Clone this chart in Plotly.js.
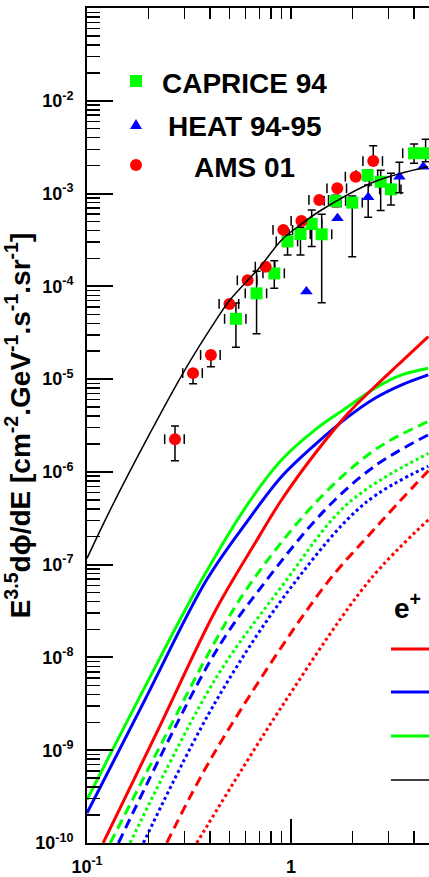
<!DOCTYPE html>
<html><head><meta charset="utf-8">
<script src="https://cdn.plot.ly/plotly-3.0.1.min.js"></script>
<style>html,body{margin:0;padding:0;overflow:hidden;background:#fff}</style>
</head><body><div id="chart" style="width:429px;height:877px"></div>
<script>
// ---------- data: AMS 01 ----------
const E_AMS = [0.270, 0.331, 0.405, 0.499, 0.613, 0.751, 0.917, 1.125, 1.376, 1.686, 2.075, 2.53];
const F_AMS = [2.25e-6, 1.16e-5, 1.82e-5, 6.46e-5, 1.16e-4, 1.63e-4, 4.06e-4, 5.07e-4, 8.53e-4, 1.14e-3, 1.52e-3, 2.24e-3];
const F_AMS_HI = [3.13e-6, 1.16e-5, 1.82e-5, 6.46e-5, 1.16e-4, 1.63e-4, 4.06e-4, 5.07e-4, 8.53e-4, 1.14e-3, 1.52e-3, 3.28e-3];
const F_AMS_LO = [1.32e-6, 8.9e-6, 1.36e-5, 6.46e-5, 1.16e-4, 1.63e-4, 4.06e-4, 5.07e-4, 8.53e-4, 1.14e-3, 1.52e-3, 2.24e-3];
const DE_AMS = 0.11;   // relative energy bin half-width
// ---------- data: CAPRICE 94 ----------
const E_CAP = [0.537, 0.678, 0.828, 0.962, 1.113, 1.263, 1.414, 1.654, 1.996, 2.375, 2.752, 3.09, 4.01, 4.57];
const F_CAP = [4.46e-5, 8.4e-5, 1.38e-4, 3.05e-4, 3.66e-4, 4.70e-4, 3.64e-4, 8.32e-4, 7.98e-4, 1.58e-3, 1.34e-3, 1.11e-3, 2.72e-3, 2.72e-3];
const F_CAP_HI = [6.6e-5, 1.45e-4, 1.89e-4, 3.6e-4, 4.3e-4, 6.65e-4, 6.0e-4, 9.6e-4, 9.4e-4, 1.8e-3, 1.78e-3, 1.66e-3, 3.42e-3, 3.85e-3];
const F_CAP_LO = [2.21e-5, 3.09e-5, 9.55e-5, 2.18e-4, 2.18e-4, 2.68e-4, 6.67e-5, 7.2e-4, 2.09e-4, 1.38e-3, 6.55e-4, 7.53e-4, 2.12e-3, 2.2e-3];
const DE_CAP = 0.12;
// ---------- data: HEAT 94-95 ----------
const E_HEAT = [1.19, 1.69, 2.39, 3.40, 4.45];
const F_HEAT = [8.77e-5, 5.42e-4, 9.12e-4, 1.52e-3, 1.95e-3];
const F_HEAT_HI = [NaN, NaN, 1.24e-3, 2.17e-3, NaN];
const F_HEAT_LO = [NaN, NaN, 5.55e-4, 1.02e-3, NaN];
// ---------- model curves ----------
const E_black = [0.1, 0.130, 0.204, 0.302, 0.424, 0.502, 0.705, 0.90, 1.107, 1.41, 2.58, 4.70];
const F_black = [1.17e-7, 3.9e-7, 2.63e-6, 1.26e-5, 4.17e-5, 7.14e-5, 1.62e-4, 3.16e-4, 4.57e-4, 6.65e-4, 1.35e-3, 1.95e-3];

const E_greenSolid = [0.1, 0.189, 0.365, 0.618, 0.90, 1.312, 1.91, 2.58, 3.49, 4.71];
const F_greenSolid = [2.92e-10, 4.47e-9, 6.86e-8, 4.6e-7, 1.35e-6, 2.84e-6, 5.06e-6, 7.98e-6, 1.11e-5, 1.31e-5];
const E_blueSolid = [0.1, 0.189, 0.386, 0.618, 0.90, 1.312, 1.91, 2.58, 3.49, 4.71];
const F_blueSolid = [2.10e-10, 3.24e-9, 6.86e-8, 3.04e-7, 8.91e-7, 1.97e-6, 3.94e-6, 6.22e-6, 8.67e-6, 1.11e-5];
const E_redSolid = [0.120, 0.226, 0.424, 0.667, 0.90, 1.312, 1.91, 2.58, 3.49, 4.71];
const F_redSolid = [1.0e-10, 1.76e-9, 3.13e-8, 1.71e-7, 5.01e-7, 1.58e-6, 4.30e-6, 8.32e-6, 1.55e-5, 2.88e-5];

const E_greenDash = [0.130, 0.234, 0.424, 0.618, 1.312, 2.58, 4.71];
const F_greenDash = [1e-10, 1.23e-9, 1.48e-8, 5.81e-8, 4.60e-7, 1.73e-6, 3.49e-6];
const E_blueDash = [0.1426, 0.424, 0.718, 1.469, 2.58, 4.71];
const F_blueDash = [1e-10, 1.12e-8, 5.81e-8, 3.9e-7, 1.16e-6, 2.51e-6];
const E_redDash = [0.246, 0.424, 1.414, 2.487, 4.71];
const F_redDash = [1e-10, 9.62e-10, 5.35e-8, 2.25e-7, 1.03e-6];

const E_greenDot = [0.1626, 0.424, 0.90, 1.91, 4.71];
const F_greenDot = [1e-10, 5.75e-9, 5.81e-8, 4.60e-7, 1.58e-6];
const E_blueDot = [0.189, 0.424, 1.007, 2.307, 4.71];
const F_blueDot = [1e-10, 3.24e-9, 5.81e-8, 4.60e-7, 1.15e-6];
const E_redDot = [0.345, 0.90, 2.438, 4.71];
const F_redDot = [1e-10, 2.94e-9, 6.86e-8, 3.04e-7];

// ---------- axis labels ----------
const xTickVals = [0.1, 1];
const xTickText = ['10<sup>-1</sup>', '1'];
const yTickVals = [1e-10, 1e-9, 1e-8, 1e-7, 1e-6, 1e-5, 1e-4, 1e-3, 1e-2];
const yTickText = ['10<sup>-10</sup>', '10<sup>-9</sup>', '10<sup>-8</sup>', '10<sup>-7</sup>', '10<sup>-6</sup>', '10<sup>-5</sup>', '10<sup>-4</sup>', '10<sup>-3</sup>', '10<sup>-2</sup>'];
const yTitle = 'E<sup>3.5</sup>dϕ/dE [cm<sup>-2</sup>.GeV<sup>-1</sup>.s<sup>-1</sup>.sr<sup>-1</sup>]';
const dataLegend = ['CAPRICE 94', 'HEAT 94-95', 'AMS 01'];

// ---------- build ----------
const GREEN = '#00ff00', BLUE = '#0000ff', RED = '#ff0000';
const FONT = 'Liberation Sans, Arial, Helvetica, sans-serif';

function yErr(F, hi, lo) {
  return {type: 'data', symmetric: false,
    array: hi.map((h, i) => h - F[i]), arrayminus: lo.map((l, i) => F[i] - l),
    color: '#000', thickness: 1.5, width: 4};
}
function curve(x, y, color, dash, w) {
  return {x: x, y: y, mode: 'lines', type: 'scatter', hoverinfo: 'skip',
    line: {color: color, width: w, dash: dash, shape: 'spline', smoothing: 1}};
}
// end caps of the energy-bin error bars (ROOT draws only the caps here)
function xCaps(E, F, d) {
  return {x: E.map(e => e * (1 - d)).concat(E.map(e => e * (1 + d))), y: F.concat(F),
    mode: 'markers', type: 'scatter', hoverinfo: 'skip',
    marker: {symbol: 'line-ns-open', size: 7, color: '#000', line: {color: '#000', width: 1.5}}};
}

const traces = [
  curve(E_redDot, F_redDot, RED, '3px,3px', 3),
  curve(E_blueDot, F_blueDot, BLUE, '3px,3px', 3),
  curve(E_greenDot, F_greenDot, GREEN, '3px,3px', 3),
  curve(E_redDash, F_redDash, RED, '10px,6px', 3),
  curve(E_blueDash, F_blueDash, BLUE, '10px,6px', 3),
  curve(E_greenDash, F_greenDash, GREEN, '10px,6px', 3),
  curve(E_blueSolid, F_blueSolid, BLUE, 'solid', 3),
  curve(E_greenSolid, F_greenSolid, GREEN, 'solid', 3),
  curve(E_redSolid, F_redSolid, RED, 'solid', 3),
  xCaps(E_CAP, F_CAP, DE_CAP),
  xCaps(E_AMS, F_AMS, DE_AMS),
  {x: E_CAP, y: F_CAP, mode: 'markers', type: 'scatter', name: dataLegend[0],
    marker: {symbol: 'square', size: 12, color: GREEN},
    error_y: yErr(F_CAP, F_CAP_HI, F_CAP_LO)},
  {x: E_HEAT, y: F_HEAT, mode: 'markers', type: 'scatter', name: dataLegend[1],
    marker: {symbol: 'triangle-up', size: 11, color: BLUE},
    error_y: yErr(F_HEAT, F_HEAT_HI, F_HEAT_LO)},
  {x: E_AMS, y: F_AMS, mode: 'markers', type: 'scatter', name: dataLegend[2],
    marker: {symbol: 'circle', size: 12, color: RED},
    error_y: yErr(F_AMS, F_AMS_HI, F_AMS_LO)},
  curve(E_black, F_black, '#000', 'solid', 1.5),
  // empty traces that only carry the tick-mark axes
  {x: [], y: [], xaxis: 'x2', yaxis: 'y', type: 'scatter', hoverinfo: 'skip'},
  {x: [], y: [], xaxis: 'x3', yaxis: 'y', type: 'scatter', hoverinfo: 'skip'},
  {x: [], y: [], xaxis: 'x', yaxis: 'y2', type: 'scatter', hoverinfo: 'skip'}
];

const xMinor = [], xTop = [], yMinor = [];
[0.1, 1].forEach(d => { for (let k = 2; k <= 9; k++) { xMinor.push(d * k); xTop.push(d * k); } });
xTop.push(1);
for (let e = -10; e <= -2; e++) for (let k = 2; k <= 9; k++) yMinor.push(k * Math.pow(10, e));

const XR = [-1, 0.6765], YR = [-10, -1];
const tickFont = {family: FONT, size: 18, color: '#000', weight: 'bold'};

// plot area helpers for legend decorations (paper coords)
const PW = 342, PH = 835, PL = 87, PT = 8;
const px = v => (v - PL) / PW;
const py = v => (PT + PH - v) / PH;

const shapes = [
  {type: 'rect', xref: 'paper', yref: 'paper', xsizemode: 'pixel', ysizemode: 'pixel',
    xanchor: px(136), yanchor: py(81), x0: -6, x1: 6, y0: -6, y1: 6, fillcolor: GREEN, line: {width: 0}},
  {type: 'path', xref: 'paper', yref: 'paper', xsizemode: 'pixel', ysizemode: 'pixel',
    xanchor: px(136), yanchor: py(124), path: 'M-6,-5 L6,-5 L0,5 Z', fillcolor: BLUE, line: {width: 0}},
  {type: 'circle', xref: 'paper', yref: 'paper', xsizemode: 'pixel', ysizemode: 'pixel',
    xanchor: px(136), yanchor: py(165), x0: -6, x1: 6, y0: -6, y1: 6, fillcolor: RED, line: {width: 0}},
  {type: 'line', xref: 'paper', yref: 'paper', x0: px(391), x1: px(440), y0: py(649), y1: py(649), line: {color: RED, width: 3}},
  {type: 'line', xref: 'paper', yref: 'paper', x0: px(391), x1: px(440), y0: py(692), y1: py(692), line: {color: BLUE, width: 3}},
  {type: 'line', xref: 'paper', yref: 'paper', x0: px(391), x1: px(440), y0: py(736), y1: py(736), line: {color: GREEN, width: 3}},
  {type: 'line', xref: 'paper', yref: 'paper', x0: px(391), x1: px(440), y0: py(780), y1: py(780), line: {color: '#000', width: 1.6}}
];

const annFont = {family: FONT, size: 28, color: '#000', weight: 'bold'};
const annotations = [
  {text: dataLegend[0], xref: 'paper', yref: 'paper', x: px(244), y: py(84), xanchor: 'center', yanchor: 'middle', showarrow: false, font: annFont},
  {text: dataLegend[1], xref: 'paper', yref: 'paper', x: px(245), y: py(127), xanchor: 'center', yanchor: 'middle', showarrow: false, font: annFont},
  {text: dataLegend[2], xref: 'paper', yref: 'paper', x: px(244), y: py(168), xanchor: 'center', yanchor: 'middle', showarrow: false, font: annFont},
  {text: 'e<sup>+</sup>', xref: 'paper', yref: 'paper', x: px(392), y: py(606), xanchor: 'left', yanchor: 'middle', showarrow: false, font: annFont}
];

const layout = {
  width: 429, height: 877,
  margin: {l: 87, r: 0, t: 8, b: 34, pad: 0},
  paper_bgcolor: '#fff', plot_bgcolor: '#fff',
  showlegend: false,
  font: {family: FONT, color: '#000'},
  xaxis: {type: 'log', range: XR, tickmode: 'array', tickvals: xTickVals, ticktext: xTickText,
    ticks: 'inside', ticklen: 24, tickwidth: 2, tickcolor: '#000',
    showline: true, linewidth: 2, linecolor: '#000', mirror: true,
    showgrid: false, zeroline: false, tickfont: tickFont, ticklabelstandoff: 6},
  xaxis2: {type: 'log', range: XR, overlaying: 'x', side: 'top', anchor: 'y', tickmode: 'array', tickvals: xTop,
    ticks: 'inside', ticklen: 11, tickwidth: 1.5, tickcolor: '#000', showticklabels: false,
    showline: false, showgrid: false, zeroline: false},
  xaxis3: {type: 'log', range: XR, overlaying: 'x', side: 'bottom', anchor: 'y', tickmode: 'array', tickvals: xMinor,
    ticks: 'inside', ticklen: 12, tickwidth: 1.5, tickcolor: '#000', showticklabels: false,
    showline: false, showgrid: false, zeroline: false},
  yaxis: {type: 'log', range: YR, tickmode: 'array', tickvals: yTickVals, ticktext: yTickText,
    ticks: 'inside', ticklen: 26, tickwidth: 2, tickcolor: '#000',
    showline: true, linewidth: 2, linecolor: '#000', mirror: false,
    showgrid: false, zeroline: false, tickfont: tickFont, ticklabelstandoff: 8,
    title: {text: yTitle, font: {family: FONT, size: 28, color: '#000', weight: 'bold'}, standoff: 4}},
  yaxis2: {type: 'log', range: YR, overlaying: 'y', side: 'left', anchor: 'x', tickmode: 'array', tickvals: yMinor,
    ticks: 'inside', ticklen: 13, tickwidth: 1.5, tickcolor: '#000', showticklabels: false,
    showline: false, showgrid: false, zeroline: false},
  shapes: shapes,
  annotations: annotations
};

Plotly.newPlot('chart', traces, layout, {staticPlot: true, displayModeBar: false});
</script></body></html>
